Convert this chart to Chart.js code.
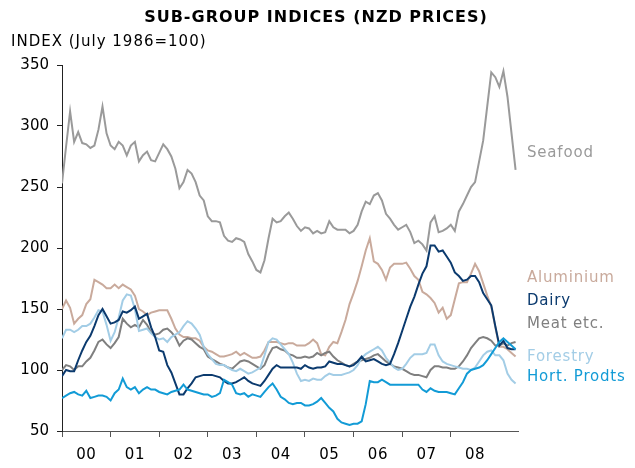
<!DOCTYPE html>
<html>
<head>
<meta charset="utf-8">
<script src="https://cdn.jsdelivr.net/npm/chart.js@4.4.1/dist/chart.umd.min.js"></script>
<style>
  html, body { margin: 0; padding: 0; background: #fff; }
  #wrap { width: 635px; height: 468px; position: relative; }
</style>
</head>
<body>
<div id="wrap"><canvas id="subGroupChart" width="635" height="468"></canvas></div>
<script>
// Monthly index values, Jan 2000 .. May 2009 (July 1986 = 100)
const yearLabels = ['00', '01', '02', '03', '04', '05', '06', '07', '08'];
const yTicks = [50, 100, 150, 200, 250, 300, 350];

const seafood = [253, 283, 312, 287, 295, 286, 285, 282, 284, 297, 316, 294,
  284, 281, 287, 284, 276, 284, 287, 271, 276, 279, 272, 271,
  278, 285, 281, 275, 265, 249, 254, 264, 261, 254, 243, 239,
  226, 222, 222, 221, 210, 206, 205, 208, 207, 205, 195, 189,
  182, 180, 190, 208, 224, 221, 222, 226, 229, 224, 218, 214,
  217, 216, 212, 214, 212, 213, 222, 217, 215, 215, 215, 212,
  214, 219, 230, 238, 236, 243, 245, 239, 228, 224, 219, 215,
  217, 219, 213, 204, 206, 203, 198, 221, 226, 213, 214, 216,
  219, 214, 230, 236, 243, 250, 254, 271, 288, 316, 344, 340,
  332, 345, 324, 294, 264];

const aluminium = [150, 157, 151, 138, 142, 145, 154, 158, 174, 172, 170, 167,
  167, 170, 167, 170, 168, 166, 161, 150, 148, 145, 147, 148,
  149, 149, 149, 142, 134, 129, 127, 127, 126, 126, 124, 119,
  116, 115, 113, 111, 111, 112, 113, 115, 112, 114, 112, 110,
  110, 111, 116, 123, 123, 123, 122, 121, 122, 122, 120, 120,
  120, 122, 125, 122, 113, 112, 119, 123, 122, 131, 141, 154,
  163, 173, 185, 198, 208, 189, 187, 182, 174, 184, 187, 187,
  187, 188, 183, 177, 174, 164, 162, 159, 155, 147, 151, 142,
  145, 158, 171, 172, 172, 179, 187, 181, 171, 161, 152, 135,
  119, 119, 117, 114, 111];

const dairy = [95, 100, 99, 99, 108, 116, 123, 128, 136, 145, 150, 144,
  138, 139, 141, 148, 147, 149, 152, 142, 144, 146, 135, 127,
  116, 115, 104, 98, 89, 80, 80, 85, 89, 94, 95, 96,
  96, 96, 95, 94, 91, 89, 89, 90, 92, 94, 91, 89,
  88, 87, 91, 96, 101, 104, 102, 102, 102, 102, 102, 101,
  104, 102, 101, 102, 102, 103, 107, 106, 105, 105, 104, 103,
  104, 107, 111, 107, 108, 109, 107, 105, 104, 105, 113, 122,
  132, 142, 152, 160, 170, 179, 185, 202, 202, 197, 198, 193,
  188, 180, 177, 173, 174, 177, 177, 172, 163, 158, 153, 136,
  120, 124, 118, 117, 117];

const meat = [100, 104, 103, 100, 103, 103, 107, 110, 116, 123, 125, 121,
  118, 122, 127, 142, 138, 135, 137, 135, 141, 137, 131, 129,
  130, 133, 134, 131, 127, 120, 124, 126, 125, 122, 119, 117,
  111, 109, 107, 105, 104, 102, 101, 104, 107, 108, 107, 105,
  103, 101, 104, 112, 118, 119, 117, 116, 113, 112, 110, 110,
  111, 110, 111, 114, 112, 114, 115, 111, 108, 106, 104, 103,
  105, 107, 108, 109, 110, 112, 113, 110, 107, 105, 103, 102,
  101, 99, 97, 96, 96, 95, 94, 100, 103, 103, 102, 102,
  101, 101, 103, 107, 112, 118, 122, 126, 127, 126, 124, 120,
  120, 122, 120, 122, 123];

const forestry = [126, 133, 133, 131, 133, 136, 136, 138, 143, 149, 148, 137,
  124, 131, 143, 157, 162, 161, 150, 132, 133, 134, 130, 127,
  125, 126, 123, 127, 129, 131, 136, 140, 138, 134, 129, 119,
  113, 109, 105, 104, 104, 102, 100, 99, 101, 99, 97, 98,
  100, 102, 112, 123, 126, 125, 121, 117, 113, 106, 97, 91,
  92, 91, 93, 92, 92, 95, 97, 96, 96, 96, 97, 98,
  100, 104, 110, 113, 115, 117, 119, 116, 110, 106, 102, 100,
  101, 105, 110, 113, 113, 113, 114, 121, 121, 112, 107, 105,
  104, 103, 102, 101, 101, 100, 102, 107, 112, 115, 116, 112,
  112, 108, 97, 92, 89];

const hortProdts = [77, 79, 81, 82, 80, 79, 83, 77, 78, 79, 79, 78,
  75, 81, 84, 93, 86, 84, 86, 81, 84, 86, 84, 84,
  82, 81, 80, 82, 83, 84, 88, 84, 83, 82, 81, 80,
  80, 78, 79, 81, 92, 90, 88, 81, 80, 81, 78, 80,
  79, 78, 82, 86, 89, 84, 78, 76, 73, 72, 73, 73,
  71, 71, 72, 74, 77, 73, 69, 66, 60, 57, 56, 55,
  56, 56, 58, 72, 91, 90, 90, 92, 90, 88, 88, 88,
  88, 88, 88, 88, 88, 84, 82, 85, 83, 82, 82, 82,
  81, 80, 85, 90, 97, 100, 101, 102, 104, 108, 113, 118,
  123, 126, 123, 120, 117];

const seriesInfo = [
  { name: 'Hort. Prodts', values: hortProdts, color: '#129bd6', labelY: 377 },
  { name: 'Dairy', values: dairy, color: '#0b3a6e', labelY: 301 },
  { name: 'Forestry', values: forestry, color: '#a3cde6', labelY: 357 },
  { name: 'Meat etc.', values: meat, color: '#7f7f7f', labelY: 324 },
  { name: 'Aluminium', values: aluminium, color: '#c9aa9c', labelY: 278 },
  { name: 'Seafood', values: seafood, color: '#9a9a9a', labelY: 153 }
];

const FONT = '"DejaVu Sans", Verdana, sans-serif';

const toPoints = (vals) => vals.map((v, i) => ({ x: i, y: v }));

// Title, axis caption, year labels and series names
const annotations = {
  id: 'annotations',
  afterDraw(chart) {
    const ctx = chart.ctx;
    const xs = chart.scales.x;
    const area = chart.chartArea;
    ctx.save();
    ctx.fillStyle = '#000';
    ctx.textBaseline = 'middle';

    ctx.font = 'bold 16px ' + FONT;
    ctx.letterSpacing = '1px';
    ctx.textAlign = 'center';
    ctx.fillText('SUB-GROUP INDICES (NZD PRICES)', 316, 18);

    ctx.font = '15px ' + FONT;
    ctx.letterSpacing = '1px';
    ctx.textAlign = 'left';
    ctx.fillText('INDEX (July 1986=100)', 11, 42);

    ctx.letterSpacing = '0.5px';
    ctx.textAlign = 'center';
    yearLabels.forEach((lab, k) => {
      ctx.fillText(lab, xs.getPixelForValue(k * 12 + 6), area.bottom + 24);
    });

    ctx.textAlign = 'left';
    ctx.font = '15px ' + FONT;
    ctx.letterSpacing = '0.8px';
    seriesInfo.forEach((s) => {
      ctx.fillStyle = s.color;
      ctx.fillText(s.name, 527, s.labelY);
    });
    ctx.restore();
  }
};

const chart = new Chart(document.getElementById('subGroupChart'), {
  type: 'line',
  data: {
    datasets: seriesInfo.map((s) => ({
      label: s.name,
      data: toPoints(s.values),
      borderColor: s.color,
      borderWidth: 2,
      pointRadius: 0,
      tension: 0,
      fill: false
    }))
  },
  options: {
    responsive: false,
    animation: false,
    layout: { padding: { left: 0, right: 117, top: 65, bottom: 0 } },
    scales: {
      x: {
        type: 'linear',
        min: 0,
        max: 112.6,
        afterBuildTicks: (scale) => {
          scale.ticks = yearLabels.map((lab, k) => ({ value: k * 12 }));
        },
        afterFit: (scale) => { scale.height = 37; },
        ticks: { display: false },
        grid: { drawOnChartArea: false, drawTicks: true, tickLength: 6, color: '#555', lineWidth: 1 },
        border: { display: true, color: '#555', width: 1 }
      },
      y: {
        min: 50,
        max: 350,
        afterBuildTicks: (scale) => {
          scale.ticks = yTicks.map((v) => ({ value: v }));
        },
        afterFit: (scale) => { scale.width = 62; },
        ticks: { color: '#000', padding: 8, font: { family: FONT, size: 15 } },
        grid: { drawOnChartArea: false, drawTicks: true, tickLength: 5, color: '#222', lineWidth: 1 },
        border: { display: true, color: '#222', width: 1 }
      }
    },
    plugins: {
      legend: { display: false },
      title: { display: false },
      tooltip: { enabled: false }
    }
  },
  plugins: [annotations]
});
</script>
</body>
</html>
